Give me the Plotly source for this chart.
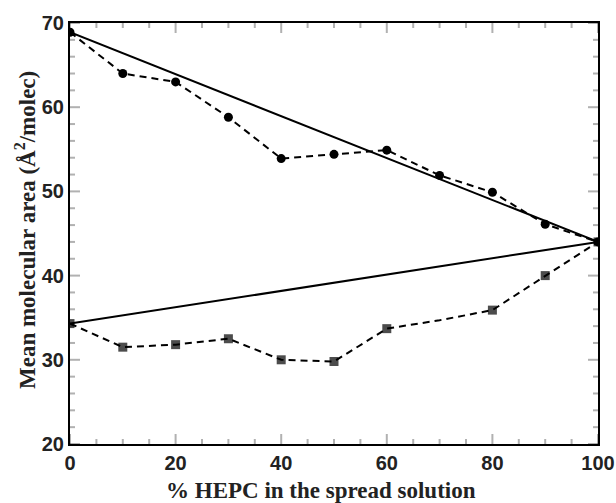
import plotly.graph_objects as go

hepc_pct = [0, 10, 20, 30, 40, 50, 60, 70, 80, 90, 100]
area_circles = [68.9, 64.0, 63.0, 58.8, 53.9, 54.4, 54.9, 51.9, 49.9, 46.1, 44.0]
area_squares = [34.3, 31.5, 31.8, 32.5, 30.0, 29.8, 33.7, 34.7, 35.9, 40.0, 44.0]
square_marker_shown = [1, 1, 1, 1, 1, 1, 1, 0, 1, 1, 1]
ideal_x = [0, 100]
ideal_circles = [68.9, 44.0]
ideal_squares = [34.3, 44.0]
x_range = [0, 100]
y_range = [20, 70]
x_major_step, x_minor_step = 20, 5
y_major_step, y_minor_step = 10, 2

W, H = 616, 503
ML, MR, MT, MB = 70, 18, 23, 59
plot_w, plot_h = W - ML - MR, H - MT - MB

fig = go.Figure()
fig.add_trace(go.Scatter(x=ideal_x, y=ideal_circles, mode="lines",
                         line=dict(color="black", width=2), showlegend=False))
fig.add_trace(go.Scatter(x=ideal_x, y=ideal_squares, mode="lines",
                         line=dict(color="black", width=2), showlegend=False))
fig.add_trace(go.Scatter(x=hepc_pct, y=area_circles, mode="lines+markers",
                         line=dict(color="black", width=2, dash="7px,5px"),
                         marker=dict(symbol="circle", size=9, color="black",
                                     line=dict(width=0)),
                         showlegend=False))
fig.add_trace(go.Scatter(x=hepc_pct, y=area_squares, mode="lines+markers",
                         line=dict(color="black", width=2, dash="7px,5px"),
                         marker=dict(symbol="square", size=[9 if s else 0 for s in square_marker_shown],
                                     color="black", line=dict(width=0)),
                         showlegend=False))

# tick marks drawn inside on all four sides
tick_style = dict(color="black", width=2)
for v in range(x_range[0], x_range[1] + 1, x_minor_step):
    ln = (10 if v % x_major_step == 0 else 5) / plot_h
    fig.add_shape(type="line", xref="x", yref="y domain", x0=v, x1=v, y0=0, y1=ln, line=tick_style)
    fig.add_shape(type="line", xref="x", yref="y domain", x0=v, x1=v, y0=1, y1=1 - ln, line=tick_style)
for v in range(y_range[0], y_range[1] + 1, y_minor_step):
    ln = (10 if v % y_major_step == 0 else 5) / plot_w
    fig.add_shape(type="line", xref="x domain", yref="y", x0=0, x1=ln, y0=v, y1=v, line=tick_style)
    fig.add_shape(type="line", xref="x domain", yref="y", x0=1, x1=1 - ln, y0=v, y1=v, line=tick_style)

tickfont = dict(family="Liberation Sans", size=20, color="#222", weight="bold")
fig.update_xaxes(range=x_range, dtick=x_major_step, automargin=False,
                 showgrid=False, zeroline=False, showline=True, linecolor="black",
                 linewidth=2, mirror=True, ticks="", tickfont=tickfont)
fig.update_yaxes(range=y_range, dtick=y_major_step, automargin=False,
                 showgrid=False, zeroline=False, showline=True, linecolor="black",
                 linewidth=2, mirror=True, ticks="", tickfont=tickfont)

title_font = dict(family="Liberation Serif", size=23, color="#222", weight="bold")
fig.add_annotation(text="% HEPC in the spread solution", xref="paper", yref="paper",
                   x=(321 - ML) / plot_w, y=0, yshift=-46, xanchor="center", yanchor="middle",
                   showarrow=False, font=title_font)
fig.add_annotation(text="Mean molecular area (Å<sup>2</sup>/molec)", xref="paper", yref="paper",
                   x=0, xshift=-45, y=(H - MB - 230) / plot_h, xanchor="center", yanchor="middle",
                   textangle=-90, showarrow=False, font=title_font)

fig.update_layout(template="simple_white", width=W, height=H,
                  margin=dict(l=ML, r=MR, t=MT, b=MB),
                  plot_bgcolor="white", paper_bgcolor="white")
fig.write_html("out.html", config={"displayModeBar": False},
               post_script="document.body.style.margin='0';")
